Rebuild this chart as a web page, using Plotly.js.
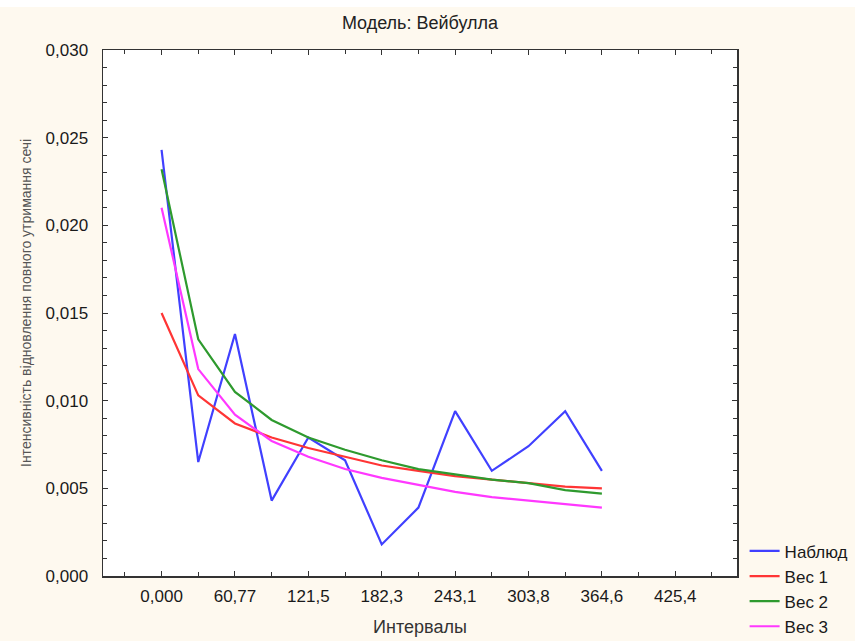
<!DOCTYPE html>
<html>
<head>
<meta charset="utf-8">
<script src="https://cdn.plot.ly/plotly-3.0.1.min.js"></script>
<style>
html,body{margin:0;padding:0;background:#ffffff;}
#chart{position:absolute;left:0;top:7px;width:855px;height:634px;}
</style>
</head>
<body>
<div id="chart"></div>
<script>
const intervals = [0, 30.385, 60.77, 91.155, 121.54, 151.925, 182.31, 212.695, 243.08, 273.465, 303.85, 334.235, 364.62];
const observed = [0.0243, 0.0065, 0.0138, 0.0043, 0.0079, 0.0066, 0.0018, 0.0039, 0.0094, 0.0060, 0.0074, 0.0094, 0.0060];
const ves1 = [0.0150, 0.0103, 0.0087, 0.0079, 0.0073, 0.0068, 0.0063, 0.0060, 0.0057, 0.0055, 0.0053, 0.0051, 0.0050];
const ves2 = [0.0232, 0.0135, 0.0105, 0.0089, 0.0079, 0.0072, 0.0066, 0.0061, 0.0058, 0.0055, 0.0053, 0.0049, 0.0047];
const ves3 = [0.0210, 0.0118, 0.0092, 0.0077, 0.0068, 0.0061, 0.0056, 0.0052, 0.0048, 0.0045, 0.0043, 0.0041, 0.0039];
const seriesNames = ['Наблюд', 'Вес 1', 'Вес 2', 'Вес 3'];
const xTickVals = [0, 60.77, 121.54, 182.31, 243.08, 303.85, 364.62, 425.39];
const xTickText = ['0,000', '60,77', '121,5', '182,3', '243,1', '303,8', '364,6', '425,4'];
const titleText = 'Модель: Вейбулла';
const xTitle = 'Интервалы';
const yTitle = 'Інтенсивність відновлення повного утримання сечі';

const colors = ['#4040ff', '#ff3535', '#2e9a2e', '#ff38ff'];
const ys = [observed, ves1, ves2, ves3];
const traces = ys.map((y, i) => ({
  x: intervals, y: y, type: 'scatter', mode: 'lines', name: seriesNames[i],
  line: {color: colors[i], width: 2.2}
}));

const layout = {
  width: 855, height: 634,
  margin: {l: 103, r: 118, t: 43, b: 65, pad: 0, autoexpand: false},
  paper_bgcolor: '#fef9ef',
  plot_bgcolor: '#ffffff',
  separators: ', ',
  font: {family: 'Liberation Sans, Arial, sans-serif', size: 17, color: '#1a1a1a'},
  title: {text: titleText, x: 0.5, xref: 'paper', xanchor: 'center', y: 0.976, yanchor: 'middle', font: {size: 18, color: '#222'}},
  showlegend: true,
  legend: {x: 1.012, xanchor: 'left', y: -0.13, yanchor: 'bottom', bgcolor: 'rgba(0,0,0,0)', font: {size: 17, color: '#1a1a1a'}},
  xaxis: {
    range: [-48.5, 476.5], tickvals: xTickVals, ticktext: xTickText,
    ticks: 'inside', ticklen: 5, tickcolor: '#333', tickwidth: 1,
    minor: {dtick: 30.385, tick0: 0, ticks: 'inside', ticklen: 4, tickcolor: '#333', showgrid: false},
    showgrid: false, zeroline: false, showline: true, linecolor: '#333', linewidth: 1.5, mirror: 'ticks',
    tickfont: {size: 17, color: '#1a1a1a'}, ticklabelstandoff: 4,
    title: {text: xTitle, font: {size: 18, color: '#333'}, standoff: 15}
  },
  yaxis: {
    range: [0, 0.030], dtick: 0.005, tick0: 0, tickformat: '.3f',
    ticks: 'inside', ticklen: 5, tickcolor: '#333', tickwidth: 1,
    minor: {dtick: 0.001, ticks: 'inside', ticklen: 4, tickcolor: '#333', showgrid: false},
    showgrid: false, zeroline: false, showline: true, linecolor: '#333', linewidth: 1.5, mirror: 'ticks',
    tickfont: {size: 17, color: '#1a1a1a'}, ticklabelstandoff: 10
  },
  annotations: [{
    text: yTitle, textangle: -90, xref: 'paper', yref: 'paper',
    x: (26 - 103) / 634, y: (576 - 303) / 526, xanchor: 'center', yanchor: 'middle',
    showarrow: false, font: {size: 14, color: '#555'}
  }]
};
Plotly.newPlot('chart', traces, layout, {displayModeBar: false, staticPlot: true});
</script>
</body>
</html>
